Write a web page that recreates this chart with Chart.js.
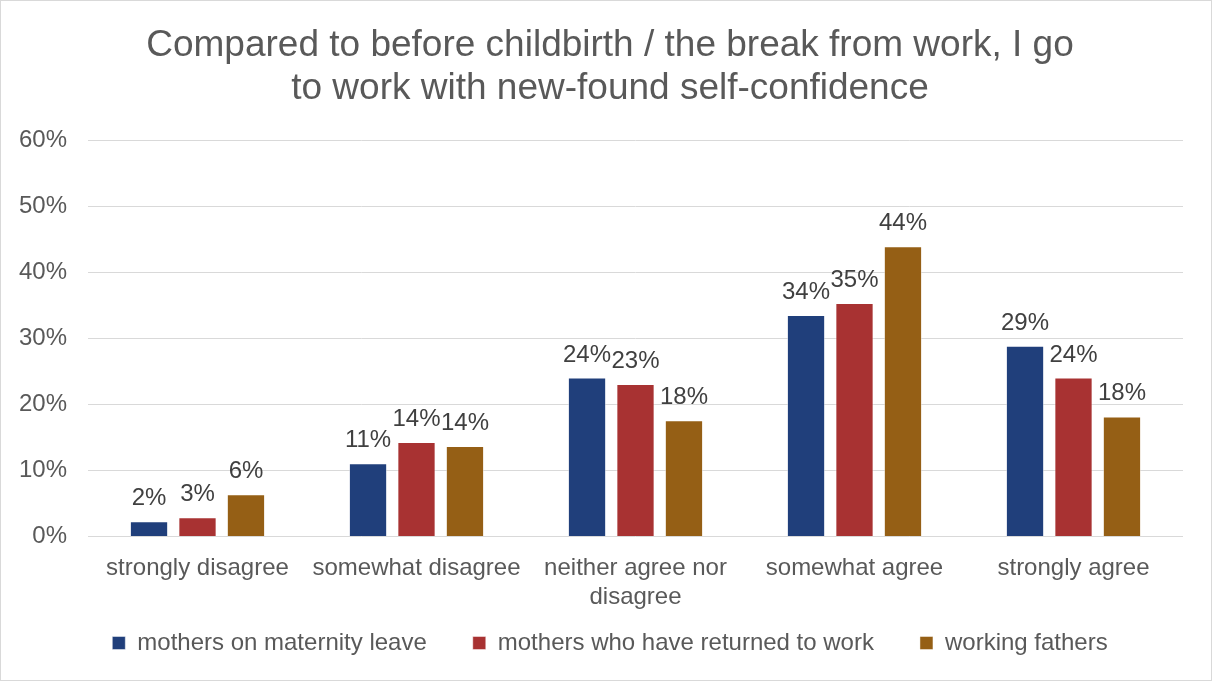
<!DOCTYPE html>
<html>
<head>
<meta charset="utf-8">
<script src="https://cdn.jsdelivr.net/npm/chart.js@4.4.0/dist/chart.umd.min.js"></script>
<style>
  body { margin: 0; background: #fff; }
  #wrap {
    width: 1212px;
    height: 681px;
    box-sizing: border-box;
    border: 1px solid #d9d9d9;
    position: relative;
  }
</style>
</head>
<body>
<div id="wrap"><canvas id="chart"></canvas></div>
<script>
// answers, grouped by agreement level
const categories = [
  'strongly disagree',
  'somewhat disagree',
  ['neither agree nor', 'disagree'],
  'somewhat agree',
  'strongly agree'
];

// share of respondents (%)
const maternityLeave = [2.3, 11.1, 24.1, 33.6, 28.9];
const returnedToWork = [2.9, 14.3, 23.1, 35.4, 24.1];
const workingFathers = [6.4, 13.7, 17.6, 44.0, 18.2];

const seriesNames = [
  'mothers on maternity leave',
  'mothers who have returned to work',
  'working fathers'
];
const seriesColors = ['#203f7b', '#a83232', '#955f15'];

const yTicks = [0, 10, 20, 30, 40, 50, 60];

const FONT = '"Liberation Sans", Arial, sans-serif';

// value labels over each bar
const barLabels = {
  id: 'barLabels',
  afterDatasetsDraw(chart) {
    const ctx = chart.ctx;
    ctx.save();
    ctx.font = '24px ' + FONT;
    ctx.fillStyle = '#404040';
    ctx.textAlign = 'center';
    ctx.textBaseline = 'alphabetic';
    chart.data.datasets.forEach((ds, i) => {
      chart.getDatasetMeta(i).data.forEach((bar, j) => {
        ctx.fillText(Math.round(ds.data[j]) + '%', bar.x, bar.y - 16);
      });
    });
    ctx.restore();
  }
};

// nudge title and legend so they sit centred over the whole canvas
const centreBlocks = {
  id: 'centreBlocks',
  afterLayout(chart) {
    [chart.titleBlock, chart.legend].forEach(box => {
      if (!box) return;
      box.left += 18;
      box.right += 18;
    });
  }
};

const datasets = [maternityLeave, returnedToWork, workingFathers].map((values, i) => ({
  label: seriesNames[i],
  data: values,
  backgroundColor: seriesColors[i],
  borderColor: 'rgba(255,255,255,0.45)',
  borderWidth: 1,
  categoryPercentage: 0.664,
  barPercentage: 0.79
}));

new Chart(document.querySelector('#chart'), {
  type: 'bar',
  data: { labels: categories, datasets: datasets },
  plugins: [barLabels, centreBlocks],
  options: {
    responsive: true,
    maintainAspectRatio: false,
    animation: false,
    layout: { padding: { left: 0, right: 28, top: 14, bottom: 15 } },
    plugins: {
      title: {
        display: true,
        text: ['Compared to before childbirth / the break from work, I go', 'to work with new-found self-confidence'],
        color: '#595959',
        font: { family: FONT, size: 37, weight: 'normal', lineHeight: 1.16 },
        padding: { top: 9, bottom: 31 }
      },
      legend: {
        position: 'bottom',
        labels: {
          color: '#595959',
          font: { family: FONT, size: 24 },
          boxWidth: 13,
          boxHeight: 13,
          padding: 10,
          // wider gap between legend entries
          generateLabels(chart) {
            const items = Chart.defaults.plugins.legend.labels.generateLabels(chart);
            items.forEach((item, i) => {
              if (i < items.length - 1) item.text += '\u2003\u2002';
            });
            return items;
          }
        }
      },
      tooltip: { enabled: false }
    },
    scales: {
      x: {
        grid: { display: false },
        border: { display: false },
        ticks: {
          color: '#595959',
          font: { family: FONT, size: 24, lineHeight: 1.2 },
          padding: 9.5,
          maxRotation: 0,
          autoSkip: false
        }
      },
      y: {
        min: 0,
        max: 60,
        afterBuildTicks(scale) {
          scale.ticks = yTicks.map(v => ({ value: v }));
        },
        afterFit(scale) {
          scale.width = 87;
        },
        grid: { color: '#d9d9d9', lineWidth: 1, drawTicks: false },
        border: { display: false },
        ticks: {
          color: '#595959',
          font: { family: FONT, size: 24 },
          padding: 21,
          callback: v => v + '%'
        }
      }
    }
  }
});
</script>
</body>
</html>
